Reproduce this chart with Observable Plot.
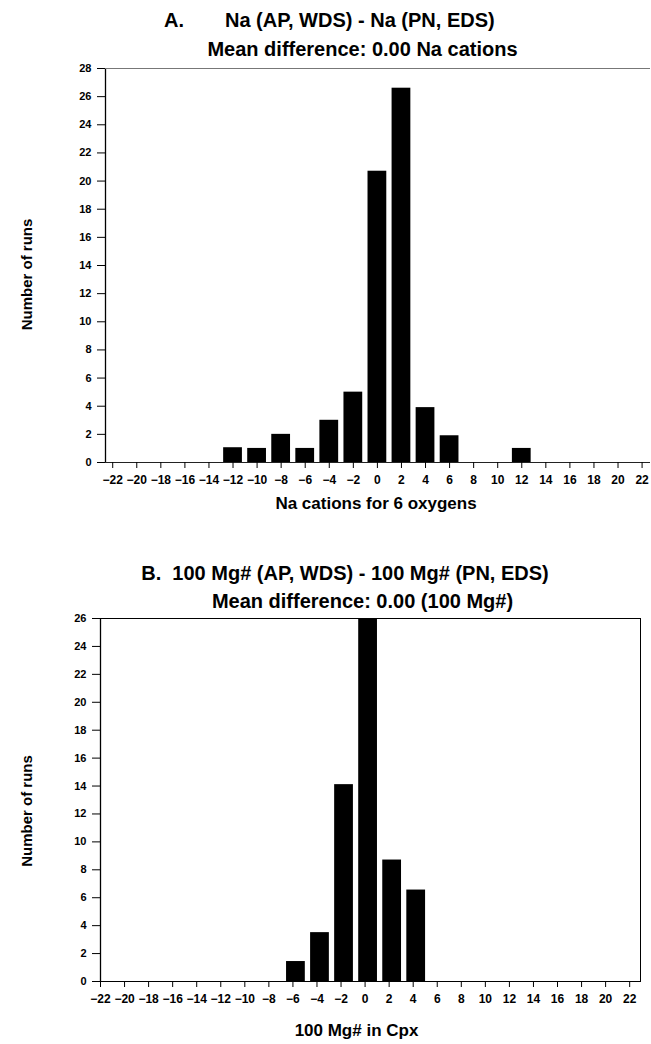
<!DOCTYPE html>
<html>
<head>
<meta charset="utf-8">
<script src="https://cdn.jsdelivr.net/npm/d3@7"></script>
<script src="https://cdn.jsdelivr.net/npm/@observablehq/plot@0.6"></script>
<style>
  body { margin: 0; background: #fff; }
  #wrap { position: relative; width: 651px; height: 1044px; font-family: "Liberation Sans", Arial, sans-serif; color: #000; }
  .t { position: absolute; white-space: pre; font-weight: bold; line-height: 1; font-size: 20px; }
  .chart { position: absolute; left: 0; }
</style>
</head>
<body>
<div id="wrap">
  <div id="a" class="chart" style="top:0"></div>
  <div id="b" class="chart" style="top:520px"></div>
  <div class="t" style="left:164px; top:10px;">A.</div>
  <div class="t" style="left:225px; top:10px;">Na (AP, WDS) - Na (PN, EDS)</div>
  <div class="t" style="left:0; width:725px; text-align:center; top:39px;">Mean difference: 0.00 Na cations</div>
  <div class="t" style="left:0; width:690px; text-align:center; top:563px;">B.  100 Mg# (AP, WDS) - 100 Mg# (PN, EDS)</div>
  <div class="t" style="left:0; width:725px; text-align:center; top:591px;">Mean difference: 0.00 (100 Mg#)</div>
</div>
<script>
// Chart A: Na (AP, WDS) - Na (PN, EDS)
const naBins = [-12, -10, -8, -6, -4, -2, 0, 2, 4, 6, 12];
const naRuns = [1.05, 1.0, 2.0, 1.0, 3.0, 5.0, 20.7, 26.6, 3.9, 1.9, 1.0];
// Chart B: 100 Mg#
const mgBins = [-6, -4, -2, 0, 2, 4];
const mgRuns = [1.43, 3.5, 14.1, 26, 8.7, 6.55];

const xTicks = d3.range(-22, 23, 2);
const yTicksA = d3.range(0, 29, 2);
const yTicksB = d3.range(0, 27, 2);
const xDomainA = [-22.6, 22.7];
const xDomainB = [-22, 22.9];

const fmt = d => d < 0 ? "\u2212" + Math.abs(d) : String(d);

function chart({bins, runs, xDomain, yTicks, yMax, width, height, mt, mb, ml, mr, xLabel, xLabelDx, xLabelDy, yLabelDy, barDx, fullFrame}) {
  const data = bins.map((b, i) => ({bin: b, n: runs[i]}));
  const marks = [
    Plot.rectY(data, {x1: d => d.bin - 0.78, x2: d => d.bin + 0.78, y: "n", fill: "#000", dx: barDx}),
    Plot.ruleY([0], {stroke: "#222", strokeWidth: 1}),
    Plot.ruleX([xDomain[0]], {stroke: "#000", strokeWidth: 1.3}),
    Plot.ruleY([yMax], {stroke: "#777", strokeWidth: 1}),
    Plot.axisX({ticks: xTicks, tickSize: 6, tickPadding: 7, tickFormat: fmt, fontSize: 12, fontWeight: "bold", stroke: "#000"}),
    Plot.axisY({ticks: yTicks, tickSize: 8, tickPadding: 6, fontSize: 11, fontWeight: "bold", label: null}),
    Plot.text([xLabel], {frameAnchor: "bottom", dx: xLabelDx, dy: xLabelDy, lineAnchor: "middle", textAnchor: "middle", fontSize: 17, fontWeight: "bold", fill: "#000"}),
    Plot.text(["Number of runs"], {frameAnchor: "left", dx: -(ml - 27), dy: yLabelDy, rotate: -90, textAnchor: "middle", lineAnchor: "middle", fontSize: 15, fontWeight: "bold", fill: "#000"})
  ];
  if (fullFrame) marks.push(Plot.frame({stroke: "#000", strokeWidth: 1}));
  return Plot.plot({
    width, height,
    marginTop: mt, marginBottom: mb, marginLeft: ml, marginRight: mr,
    style: {fontFamily: "'Liberation Sans', Arial, sans-serif", color: "#000", background: "transparent"},
    x: {domain: xDomain, axis: null},
    y: {domain: [0, yMax], axis: null},
    marks
  });
}

document.getElementById("a").appendChild(chart({
  bins: naBins, runs: naRuns, xDomain: xDomainA, yTicks: yTicksA, yMax: 28,
  width: 651, height: 520, mt: 68, mb: 58, ml: 105, mr: 1,
  xLabel: "Na cations for 6 oxygens", xLabelDx: -2, xLabelDy: 41, yLabelDy: 9, barDx: 0, fullFrame: false
}));
document.getElementById("b").appendChild(chart({
  bins: mgBins, runs: mgRuns, xDomain: xDomainB, yTicks: yTicksB, yMax: 26,
  width: 651, height: 524, mt: 98, mb: 63, ml: 100, mr: 11,
  xLabel: "100 Mg# in Cpx", xLabelDx: -14, xLabelDy: 49, yLabelDy: 11, barDx: 3, fullFrame: true
}));
</script>
</body>
</html>
